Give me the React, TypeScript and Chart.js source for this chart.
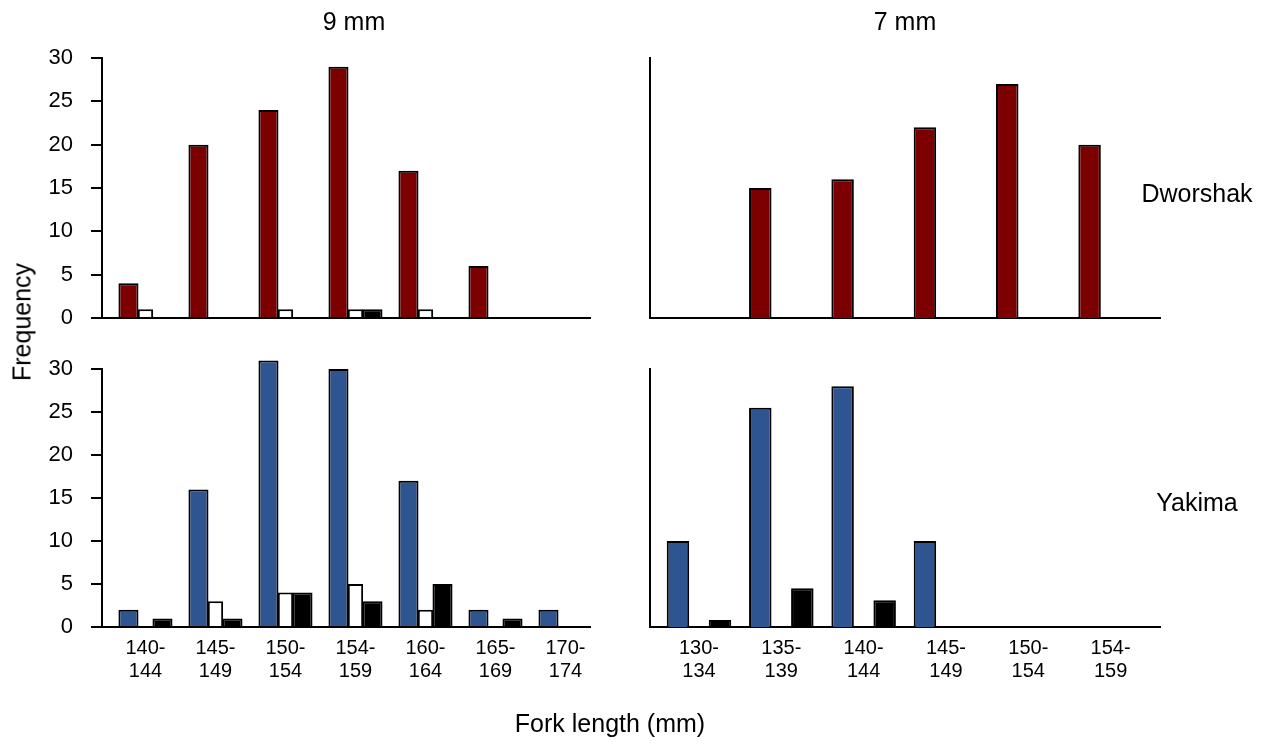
import React, { useEffect, useRef } from 'react';
import { Chart, registerables } from 'chart.js';

Chart.register(...registerables);

// ---------- data ----------
const nineMmLabels = ['140-144', '145-149', '150-154', '154-159', '160-164', '165-169', '170-174'];
const sevenMmLabels = ['130-134', '135-139', '140-144', '145-149', '150-154', '154-159'];

const dworshak9Main = [4, 20, 24, 29, 17, 6, 0];
const dworshak9White = [1, 0, 1, 1, 1, 0, 0];
const dworshak9Black = [0, 0, 0, 1, 0, 0, 0];

const dworshak7Main = [0, 15, 16, 22, 27, 20];
const dworshak7White = [0, 0, 0, 0, 0, 0];
const dworshak7Black = [0, 0, 0, 0, 0, 0];

const yakima9Main = [2, 16, 31, 30, 17, 2, 2];
const yakima9White = [0, 3, 4, 5, 2, 0, 0];
const yakima9Black = [1, 1, 4, 3, 5, 1, 0];

const yakima7Main = [10, 25.5, 28, 10, 0, 0];
const yakima7White = [0, 0, 0, 0, 0, 0];
const yakima7Black = [0.8, 4.5, 3.1, 0, 0, 0];

const yTickStep = 5;
const yMax = 30;

const RED = '#7d0000';
const BLUE = '#2f5590';

const FONT = '"Liberation Sans", Arial, Helvetica, sans-serif';

type Series = { values: number[]; color: string; barPct: number };

type PanelProps = {
  left: number;
  top: number;
  width: number;
  height: number;
  area: { left: number; right: number; top: number; bottom: number };
  labels: string[];
  series: Series[];
  showYLabels: boolean;
  showXLabels: boolean;
  xMin: number;
  xMax: number;
  catPct: number;
};

function Panel(p: PanelProps) {
  const ref = useRef<HTMLCanvasElement>(null);
  useEffect(() => {
    const chart = new Chart(ref.current as HTMLCanvasElement, {
      type: 'bar',
      data: {
        datasets: p.series.map((s) => ({
          data: s.values.map((v, i) => ({ x: i, y: v })),
          backgroundColor: s.color,
          borderColor: '#000',
          borderWidth: 2,
          borderSkipped: 'start',
          categoryPercentage: p.catPct,
          barPercentage: s.barPct,
          clip: false,
        })),
      } as any,
      options: {
        responsive: false,
        animation: false,
        devicePixelRatio: 1,
        layout: { padding: { top: p.area.top, right: p.width - p.area.right, left: 0, bottom: 0 } },
        plugins: { legend: { display: false }, tooltip: { enabled: false }, title: { display: false } },
        scales: {
          x: {
            type: 'linear',
            min: p.xMin,
            max: p.xMax,
            offset: false,
            afterBuildTicks: (s: any) => {
              s.ticks = p.labels.map((_, i) => ({ value: i }));
            },
            afterFit: (s: any) => {
              s.height = p.height - p.area.bottom;
            },
            grid: { display: false, drawTicks: false },
            border: { display: true, color: '#000', width: 2 },
            ticks: {
              display: p.showXLabels,
              padding: 10,
              color: '#000',
              autoSkip: false,
              maxRotation: 0,
              font: { family: FONT, size: 20, lineHeight: 1.15 },
              callback: (v: any) => {
                const l = p.labels[v as number];
                if (!l) return '';
                const parts = l.split('-');
                return [parts[0] + '-', parts[1]];
              },
            },
          },
          y: {
            min: 0,
            max: yMax,
            afterFit: (s: any) => {
              s.width = p.area.left;
            },
            grid: {
              display: p.showYLabels,
              drawOnChartArea: false,
              drawTicks: p.showYLabels,
              tickLength: 11,
              color: '#000',
              lineWidth: 2,
            },
            border: { display: true, color: '#000', width: 2 },
            ticks: {
              display: p.showYLabels,
              stepSize: yTickStep,
              padding: 18,
              color: '#000',
              font: { family: FONT, size: 22 },
            },
          },
        },
      } as any,
    });
    return () => chart.destroy();
  }, []);
  return (
    <canvas
      ref={ref}
      width={p.width}
      height={p.height}
      style={{ position: 'absolute', left: p.left, top: p.top, width: p.width, height: p.height }}
    />
  );
}

const textStyle: React.CSSProperties = {
  position: 'absolute',
  fontFamily: FONT,
  fontSize: 25,
  color: '#000',
  whiteSpace: 'nowrap',
  transform: 'translate(-50%, -50%)',
  lineHeight: 1,
};

export default function App() {
  const leftSeries = (m: number[], w: number[], b: number[], c: string): Series[] => [
    { values: m, color: c, barPct: 1.18 },
    { values: w, color: '#ffffff', barPct: 0.9 },
    { values: b, color: '#000000', barPct: 1.18 },
  ];
  const rightSeries = (m: number[], w: number[], b: number[], c: string): Series[] => [
    { values: m, color: c, barPct: 1.07 },
    { values: w, color: '#ffffff', barPct: 1.07 },
    { values: b, color: '#000000', barPct: 1.07 },
  ];
  return (
    <div
      style={{
        position: 'absolute',
        left: 0,
        top: 0,
        width: 1262,
        height: 748,
        background: '#fff',
        overflow: 'hidden',
      }}
    >
      <Panel
        left={0}
        top={0}
        width={620}
        height={362}
        area={{ left: 102, right: 590, top: 58, bottom: 318 }}
        labels={nineMmLabels}
        series={leftSeries(dworshak9Main, dworshak9White, dworshak9Black, RED)}
        showYLabels={true}
        showXLabels={false}
        xMin={-0.621}
        xMax={6.35}
        catPct={0.729}
      />
      <Panel
        left={0}
        top={330}
        width={620}
        height={418}
        area={{ left: 102, right: 590, top: 39, bottom: 297 }}
        labels={nineMmLabels}
        series={leftSeries(yakima9Main, yakima9White, yakima9Black, BLUE)}
        showYLabels={true}
        showXLabels={true}
        xMin={-0.621}
        xMax={6.35}
        catPct={0.729}
      />
      <Panel
        left={620}
        top={0}
        width={642}
        height={362}
        area={{ left: 30, right: 540, top: 58, bottom: 318 }}
        labels={sevenMmLabels}
        series={rightSeries(dworshak7Main, dworshak7White, dworshak7Black, RED)}
        showYLabels={false}
        showXLabels={false}
        xMin={-0.595}
        xMax={5.6}
        catPct={0.766}
      />
      <Panel
        left={620}
        top={330}
        width={642}
        height={418}
        area={{ left: 30, right: 540, top: 39, bottom: 297 }}
        labels={sevenMmLabels}
        series={rightSeries(yakima7Main, yakima7White, yakima7Black, BLUE)}
        showYLabels={false}
        showXLabels={true}
        xMin={-0.595}
        xMax={5.6}
        catPct={0.766}
      />
      <div style={{ ...textStyle, left: 354, top: 21, fontSize: 25 }}>9 mm</div>
      <div style={{ ...textStyle, left: 905, top: 21, fontSize: 25 }}>7 mm</div>
      <div style={{ ...textStyle, left: 1197, top: 193, fontSize: 25 }}>Dworshak</div>
      <div style={{ ...textStyle, left: 1197, top: 502, fontSize: 25 }}>Yakima</div>
      <div style={{ ...textStyle, left: 610, top: 723, fontSize: 25 }}>Fork length (mm)</div>
      <div style={{ ...textStyle, left: 22, top: 322, fontSize: 25, transform: 'translate(-50%, -50%) rotate(-90deg)' }}>
        Frequency
      </div>
    </div>
  );
}
